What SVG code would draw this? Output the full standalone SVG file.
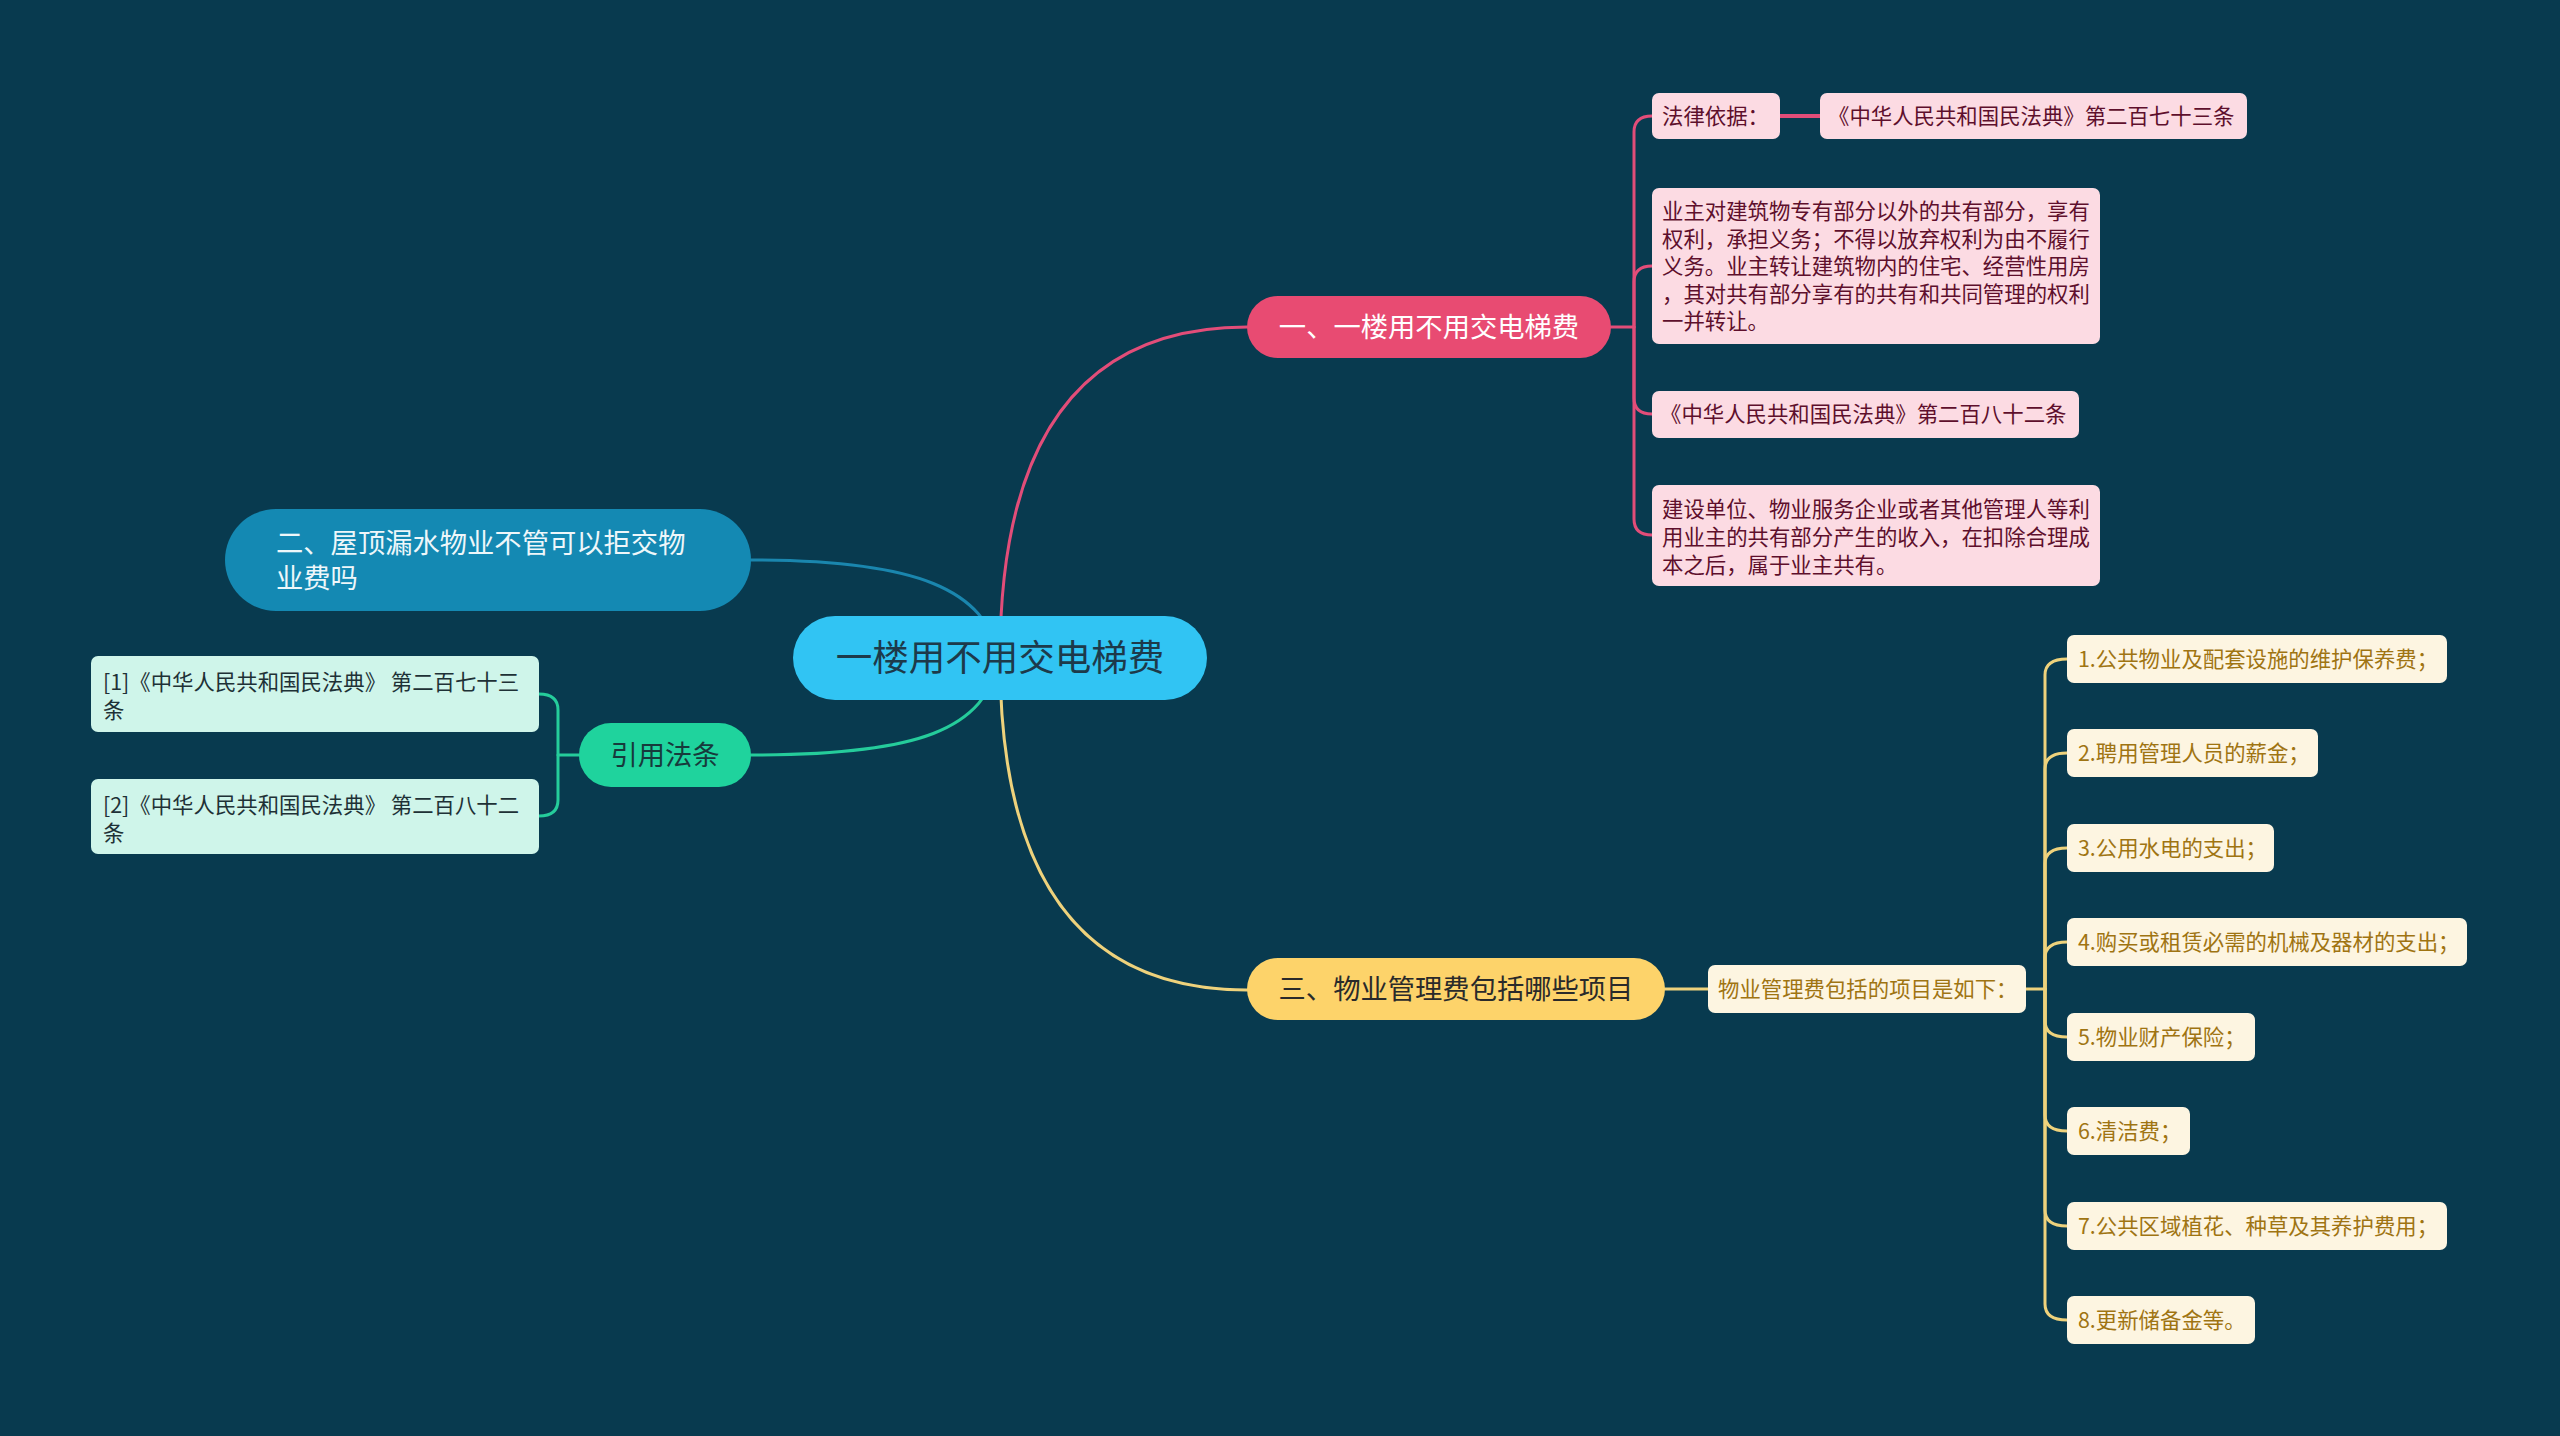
<svg xmlns="http://www.w3.org/2000/svg" width="2560" height="1436" viewBox="0 0 2560 1436">
<style>
text{font-family:"Noto Sans CJK SC","Noto Sans",sans-serif;}
.ln{fill:none;stroke-width:3;stroke-linecap:round;stroke-linejoin:round;}
.pk{stroke:#e24d79;}
.bl{stroke:#1a86ae;}
.gr{stroke:#25cc9b;}
.yl{stroke:#eed27c;}
.s21{font-size:21.4px;}
.b27{font-size:27.3px;}
.pkbox{fill:#fcdbe3;}
.pktx{fill:#5e0f2c;}
.ylbox{fill:#fdf5e1;}
.yltx{fill:#9f7412;}
.grbox{fill:#cff5ea;}
.grtx{fill:#1e3136;}
</style>
<rect x="0" y="0" width="2560" height="1436" fill="#083a4f"/>
<g id="connectors">
<path class="ln pk" d="M1000,658 Q1000,327 1247,327"/>
<path class="ln bl" d="M1000,658 C985,590 920,560 751,560"/>
<path class="ln gr" d="M1000,658 C985,730 920,755 751,755"/>
<path class="ln yl" d="M1000,658 Q1000,990 1247,990"/>
<path class="ln pk" d="M1611,327 H1634 V132 Q1634,116 1652,116"/>
<path class="ln pk" d="M1634,327 V282 Q1634,266 1652,266"/>
<path class="ln pk" d="M1634,327 V398 Q1634,414 1652,414"/>
<path class="ln pk" d="M1634,327 V519 Q1634,535 1652,535"/>
<path class="ln pk" d="M1780,116 H1820" style="stroke-width:4"/>
<path class="ln gr" d="M579,755 H558 V710 Q558,694 539,694"/>
<path class="ln gr" d="M558,755 V800 Q558,816 539,816"/>
<path class="ln yl" d="M1665,989 H1708"/>
<path class="ln yl" d="M2026,989 H2045 V675 Q2045,659 2067,659"/>
<path class="ln yl" d="M2045,989 V769 Q2045,753 2067,753"/>
<path class="ln yl" d="M2045,989 V864 Q2045,848 2067,848"/>
<path class="ln yl" d="M2045,989 V958 Q2045,942 2067,942"/>
<path class="ln yl" d="M2045,989 V1021 Q2045,1037 2067,1037"/>
<path class="ln yl" d="M2045,989 V1115 Q2045,1131 2067,1131"/>
<path class="ln yl" d="M2045,989 V1210 Q2045,1226 2067,1226"/>
<path class="ln yl" d="M2045,989 V1304 Q2045,1320 2067,1320"/>
</g>
<g id="center">
<rect x="793" y="616" width="414" height="84" rx="42" fill="#31c4f3"/>
<text x="1000" y="671" font-size="36.5" text-anchor="middle" fill="#1d3a4a">一楼用不用交电梯费</text>
</g>
<g id="b1">
<rect x="1247" y="296" width="364" height="62" rx="31" fill="#e84b72"/>
<text class="b27" x="1429" y="337" text-anchor="middle" fill="#ffffff">一、一楼用不用交电梯费</text>
</g>
<g id="b1-law">
<rect class="pkbox" x="1652" y="93" width="128" height="46" rx="7"/>
<text class="s21 pktx" x="1662" y="124">法律依据：</text>
</g>
<g id="b1-law-ref">
<rect class="pkbox" x="1820" y="93" width="427" height="46" rx="7"/>
<text class="s21 pktx" x="1828" y="124">《中华人民共和国民法典》第二百七十三条</text>
</g>
<g id="b1-text1">
<rect class="pkbox" x="1652" y="188" width="448" height="156" rx="7"/>
<text class="s21 pktx" x="1662" y="219">业主对建筑物专有部分以外的共有部分，享有</text>
<text class="s21 pktx" x="1662" y="247">权利，承担义务；不得以放弃权利为由不履行</text>
<text class="s21 pktx" x="1662" y="274">义务。业主转让建筑物内的住宅、经营性用房</text>
<text class="s21 pktx" x="1662" y="302">，其对共有部分享有的共有和共同管理的权利</text>
<text class="s21 pktx" x="1662" y="329">一并转让。</text>
</g>
<g id="b1-ref2">
<rect class="pkbox" x="1652" y="391" width="427" height="47" rx="7"/>
<text class="s21 pktx" x="1660" y="422">《中华人民共和国民法典》第二百八十二条</text>
</g>
<g id="b1-text2">
<rect class="pkbox" x="1652" y="485" width="448" height="101" rx="7"/>
<text class="s21 pktx" x="1662" y="517">建设单位、物业服务企业或者其他管理人等利</text>
<text class="s21 pktx" x="1662" y="545">用业主的共有部分产生的收入，在扣除合理成</text>
<text class="s21 pktx" x="1662" y="573">本之后，属于业主共有。</text>
</g>
<g id="b2">
<rect x="225" y="509" width="526" height="102" rx="51" fill="#1489b3"/>
<text class="b27" x="276" y="553" fill="#eef7fa">二、屋顶漏水物业不管可以拒交物</text>
<text class="b27" x="276" y="588" fill="#eef7fa">业费吗</text>
</g>
<g id="b4">
<rect x="579" y="723" width="172" height="64" rx="32" fill="#1fd39d"/>
<text class="b27" x="665" y="765" text-anchor="middle" fill="#173a3c">引用法条</text>
</g>
<g id="b4-ref1">
<rect class="grbox" x="91" y="656" width="448" height="76" rx="7"/>
<text class="s21 grtx" x="103" y="690">[1]《中华人民共和国民法典》 第二百七十三</text>
<text class="s21 grtx" x="103" y="718">条</text>
</g>
<g id="b4-ref2">
<rect class="grbox" x="91" y="779" width="448" height="75" rx="7"/>
<text class="s21 grtx" x="103" y="813">[2]《中华人民共和国民法典》 第二百八十二</text>
<text class="s21 grtx" x="103" y="841">条</text>
</g>
<g id="b3">
<rect x="1247" y="958" width="418" height="62" rx="31" fill="#fdd36a"/>
<text class="b27" x="1456" y="999" text-anchor="middle" fill="#2a2a2a">三、物业管理费包括哪些项目</text>
</g>
<g id="b3-intro">
<rect class="ylbox" x="1708" y="965" width="318" height="48" rx="7"/>
<text class="s21 yltx" x="1718" y="997">物业管理费包括的项目是如下：</text>
</g>
<g id="item1">
<rect class="ylbox" x="2067" y="635" width="380" height="48" rx="7"/>
<text class="s21 yltx" x="2078" y="667">1.公共物业及配套设施的维护保养费；</text>
</g>
<g id="item2">
<rect class="ylbox" x="2067" y="729" width="251" height="48" rx="7"/>
<text class="s21 yltx" x="2078" y="761">2.聘用管理人员的薪金；</text>
</g>
<g id="item3">
<rect class="ylbox" x="2067" y="824" width="207" height="48" rx="7"/>
<text class="s21 yltx" x="2078" y="856">3.公用水电的支出；</text>
</g>
<g id="item4">
<rect class="ylbox" x="2067" y="918" width="400" height="48" rx="7"/>
<text class="s21 yltx" x="2078" y="950">4.购买或租赁必需的机械及器材的支出；</text>
</g>
<g id="item5">
<rect class="ylbox" x="2067" y="1013" width="188" height="48" rx="7"/>
<text class="s21 yltx" x="2078" y="1045">5.物业财产保险；</text>
</g>
<g id="item6">
<rect class="ylbox" x="2067" y="1107" width="123" height="48" rx="7"/>
<text class="s21 yltx" x="2078" y="1139">6.清洁费；</text>
</g>
<g id="item7">
<rect class="ylbox" x="2067" y="1202" width="380" height="48" rx="7"/>
<text class="s21 yltx" x="2078" y="1234">7.公共区域植花、种草及其养护费用；</text>
</g>
<g id="item8">
<rect class="ylbox" x="2067" y="1296" width="188" height="48" rx="7"/>
<text class="s21 yltx" x="2078" y="1328">8.更新储备金等。</text>
</g>
</svg>
